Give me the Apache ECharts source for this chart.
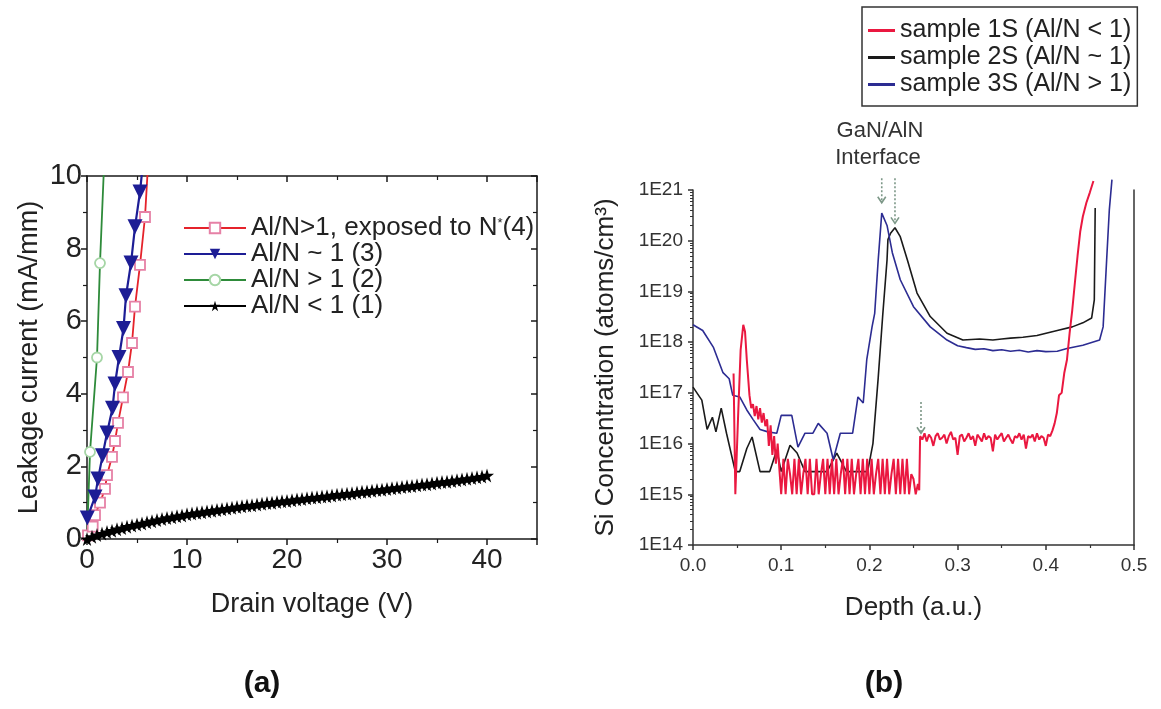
<!DOCTYPE html>
<html>
<head>
<meta charset="utf-8">
<script src="https://cdn.jsdelivr.net/npm/echarts@6/dist/echarts.min.js"></script>
<style>
  html, body { margin: 0; padding: 0; background: #fff; }
  #chart { width: 1161px; height: 709px; }
</style>
</head>
<body>
<div id="chart"></div>
<script>
// ---------- Panel (a): leakage current vs drain voltage ----------
const exposedVolt  = [0.1, 0.57, 0.8, 1.3, 1.8, 2.0, 2.5, 2.8, 3.1, 3.6, 4.1, 4.5, 4.8, 5.3, 5.8, 6.1];
const exposedCurr  = [0.1, 0.34, 0.66, 1.0, 1.38, 1.76, 2.26, 2.7, 3.2, 3.9, 4.6, 5.4, 6.4, 7.55, 8.87, 10.3];

const nearOneVolt  = [0.03, 0.8, 1.1, 1.55, 2.0, 2.55, 2.8, 3.2, 3.65, 3.9, 4.4, 4.8, 5.3, 5.65];
const nearOneCurr  = [0.58, 1.16, 1.65, 2.29, 2.92, 3.6, 4.27, 5.0, 5.8, 6.7, 7.6, 8.6, 9.56, 10.5];

const aboveOneVolt = [0, 0.3, 1.0, 1.3, 1.75];
const aboveOneCurr = [0, 2.4, 5.0, 7.6, 10.6];

const belowOneVolt = [0, 0.5, 1, 1.5, 2, 2.5, 3, 3.5, 4, 4.5, 5, 5.5, 6, 6.5, 7, 7.5, 8, 8.5, 9, 9.5,
  10, 10.5, 11, 11.5, 12, 12.5, 13, 13.5, 14, 14.5, 15, 15.5, 16, 16.5, 17, 17.5, 18, 18.5, 19, 19.5,
  20, 20.5, 21, 21.5, 22, 22.5, 23, 23.5, 24, 24.5, 25, 25.5, 26, 26.5, 27, 27.5, 28, 28.5, 29, 29.5,
  30, 30.5, 31, 31.5, 32, 32.5, 33, 33.5, 34, 34.5, 35, 35.5, 36, 36.5, 37, 37.5, 38, 38.5, 39, 39.5, 40];
const belowOneCurr = [0.00, 0.06, 0.11, 0.15, 0.19, 0.23, 0.27, 0.30, 0.34, 0.37, 0.40, 0.43, 0.46, 0.49, 0.52, 0.55, 0.58, 0.60, 0.63, 0.65,
  0.68, 0.70, 0.72, 0.74, 0.76, 0.78, 0.80, 0.82, 0.84, 0.86, 0.88, 0.90, 0.92, 0.93, 0.95, 0.97, 0.99, 1.00, 1.02, 1.04,
  1.05, 1.07, 1.09, 1.10, 1.12, 1.14, 1.15, 1.17, 1.18, 1.20, 1.22, 1.23, 1.25, 1.26, 1.28, 1.30, 1.31, 1.33, 1.35, 1.36,
  1.38, 1.40, 1.41, 1.43, 1.45, 1.46, 1.48, 1.50, 1.51, 1.53, 1.55, 1.57, 1.58, 1.60, 1.62, 1.64, 1.66, 1.68, 1.70, 1.72, 1.75];

const leakageNames = ['Al/N>1, exposed to N*(4)', 'Al/N ~ 1 (3)', 'Al/N > 1 (2)', 'Al/N < 1 (1)'];
const voltTicks = { min: 0, max: 45, step: 10 };
const currTicks = { min: 0, max: 10, step: 2 };

// ---------- Panel (b): Si depth profiles (depth, atoms/cm3) ----------
const sample1S = [
  [0.046, 2.4e17], [0.048, 1e15], [0.051, 3e16], [0.054, 7e17], [0.057, 2.2e18], [0.059, 1.6e18], [0.061, 4.5e17],
  [0.064, 9e16], [0.066, 5e16], [0.068, 6e16], [0.070, 3.5e16], [0.072, 5.5e16], [0.074, 3e16], [0.076, 5e16],
  [0.078, 2.6e16], [0.080, 4e16], [0.082, 2.2e16], [0.084, 3e16], [0.086, 9e15], [0.088, 2.3e16], [0.090, 6e15],
  [0.092, 1.4e16], [0.094, 4e15], [0.096, 1e16], [0.098, 3e15],
  [0.1000, 1e15], [0.1025, 5e15], [0.1050, 1e15], [0.1075, 5e15], [0.1100, 2.5e15], [0.1125, 1e15], [0.1150, 5e15],
  [0.1175, 1e15], [0.1200, 5e15], [0.1225, 1e15], [0.1250, 2.5e15], [0.1275, 5e15], [0.1300, 1e15], [0.1325, 5e15],
  [0.1350, 1e15], [0.1375, 1e15], [0.1400, 5e15], [0.1425, 1e15], [0.1450, 2.5e15], [0.1475, 5e15], [0.1500, 1e15],
  [0.1525, 5e15], [0.1550, 1e15], [0.1575, 5e15], [0.1600, 1e15], [0.1625, 5e15], [0.1650, 1e15], [0.1675, 2.5e15],
  [0.1700, 5e15], [0.1725, 1e15], [0.1750, 5e15], [0.1775, 1e15], [0.1800, 5e15], [0.1825, 1e15], [0.1850, 2.5e15],
  [0.1875, 5e15], [0.1900, 1e15], [0.1925, 5e15], [0.1950, 1e15], [0.1975, 5e15], [0.2000, 1e15], [0.2025, 5e15],
  [0.2050, 1e15], [0.2075, 2.5e15], [0.2100, 5e15], [0.2125, 1e15], [0.2150, 5e15], [0.2175, 1e15], [0.2200, 5e15],
  [0.2225, 1e15], [0.2250, 2.5e15], [0.2275, 5e15], [0.2300, 1e15], [0.2325, 5e15], [0.2350, 1e15], [0.2375, 5e15],
  [0.2400, 1e15], [0.2425, 5e15], [0.2450, 1e15], [0.2475, 2.5e15], [0.2500, 2e15], [0.2525, 1e15], [0.2550, 1.6e15],
  [0.2565, 1.2e15],
  [0.2575, 1.4e16], [0.2600, 1.2e16], [0.2625, 1.6e16], [0.2650, 1.1e16], [0.2675, 1.5e16], [0.2700, 1.3e16],
  [0.2725, 9e15], [0.2750, 1.4e16], [0.2775, 1.6e16], [0.2800, 1.2e16], [0.2825, 1.3e16], [0.2850, 1.5e16],
  [0.2875, 1.0e16], [0.2900, 1.4e16], [0.2925, 1.7e16], [0.2950, 1.2e16], [0.2975, 1.3e16], [0.3000, 6e15],
  [0.3025, 1.4e16], [0.3050, 1.5e16], [0.3075, 1.1e16], [0.3100, 1.3e16], [0.3125, 1.6e16], [0.3150, 1.2e16],
  [0.3175, 1.4e16], [0.3200, 9e15], [0.3225, 1.5e16], [0.3250, 1.3e16], [0.3275, 1.1e16], [0.3300, 1.6e16],
  [0.3325, 1.2e16], [0.3350, 1.4e16], [0.3375, 1.3e16], [0.3400, 7e15], [0.3425, 1.5e16], [0.3450, 1.2e16],
  [0.3475, 1.4e16], [0.3500, 1.6e16], [0.3525, 1.1e16], [0.3550, 1.3e16], [0.3575, 1.5e16], [0.3600, 1.2e16],
  [0.3625, 1.0e16], [0.3650, 1.4e16], [0.3675, 1.3e16], [0.3700, 1.6e16], [0.3725, 1.2e16], [0.3750, 1.5e16],
  [0.3775, 8e15], [0.3800, 1.4e16], [0.3825, 1.3e16], [0.3850, 1.5e16], [0.3875, 1.1e16], [0.3900, 1.6e16],
  [0.3925, 1.2e16], [0.3950, 1.4e16], [0.3975, 1.3e16], [0.4000, 9e15], [0.4025, 1.5e16], [0.4050, 1.4e16],
  [0.4075, 1.8e16], [0.4100, 2.5e16], [0.4125, 4e16], [0.4150, 9e16], [0.4180, 1e17], [0.4210, 2.5e17],
  [0.4240, 4.5e17], [0.4270, 1.5e18], [0.4300, 4.3e18], [0.4330, 1.5e19], [0.4360, 5e19], [0.4390, 1.5e20],
  [0.4420, 3e20], [0.4460, 5.6e20], [0.4500, 9e20], [0.4540, 1.5e21]
];

const sample2S = [
  [0.000, 1.3e17], [0.010, 7.2e16], [0.016, 1.9e16], [0.022, 3.3e16], [0.026, 1.7e16], [0.032, 5e16], [0.038, 1.6e16],
  [0.048, 2.8e15], [0.053, 2.8e15], [0.061, 8e15], [0.067, 1.35e16], [0.076, 2.8e15], [0.087, 2.8e15], [0.095, 7.5e15],
  [0.100, 2.8e15], [0.110, 9.3e15], [0.118, 6.5e15], [0.127, 2.8e15], [0.152, 2.8e15], [0.163, 6.5e15], [0.174, 2.8e15],
  [0.198, 2.8e15], [0.204, 1e16], [0.210, 2e17], [0.215, 3.2e18], [0.220, 4.2e19], [0.221, 1.05e20], [0.224, 1.4e20],
  [0.229, 1.8e20], [0.235, 1.2e20], [0.243, 4.2e19], [0.254, 9.3e18], [0.269, 3.2e18], [0.288, 1.5e18], [0.306, 1.1e18],
  [0.325, 1.15e18], [0.340, 1.1e18], [0.350, 1.15e18], [0.360, 1.2e18], [0.374, 1.25e18], [0.390, 1.35e18],
  [0.413, 1.7e18], [0.430, 2e18], [0.442, 2.4e18], [0.452, 3e18], [0.455, 6.8e18], [0.456, 4.4e20]
];

const sample3S = [
  [0.000, 2.2e18], [0.011, 1.7e18], [0.023, 8e17], [0.034, 2.5e17], [0.041, 1.9e17], [0.045, 9e16], [0.053, 8.3e16],
  [0.061, 4.6e16], [0.068, 3e16], [0.076, 1.9e16], [0.085, 1.7e16], [0.095, 1.6e16], [0.100, 3.6e16], [0.112, 3.6e16],
  [0.119, 8.5e15], [0.127, 1.6e16], [0.136, 1.6e16], [0.142, 2.5e16], [0.152, 1.6e16], [0.159, 4.8e15], [0.167, 1.6e16],
  [0.181, 1.6e16], [0.187, 8.3e16], [0.193, 6.3e16], [0.197, 4.5e17], [0.203, 2e18], [0.206, 3.7e18], [0.210, 4.2e19],
  [0.214, 3.5e20], [0.220, 2e20], [0.226, 5.8e19], [0.235, 1.7e19], [0.250, 5e18], [0.269, 2e18], [0.288, 1.1e18],
  [0.300, 8.5e17], [0.310, 7.8e17], [0.320, 7.2e17], [0.330, 7.4e17], [0.340, 6.8e17], [0.350, 7.1e17], [0.360, 6.6e17],
  [0.370, 6.9e17], [0.380, 6.4e17], [0.390, 6.8e17], [0.400, 6.5e17], [0.413, 6.6e17], [0.424, 7.5e17], [0.442, 8.7e17],
  [0.461, 1.1e18], [0.465, 2e18], [0.469, 4.2e19], [0.472, 4e20], [0.475, 1.6e21]
];

const profileNames = ['sample 1S (Al/N < 1)', 'sample 2S (Al/N ~ 1)', 'sample 3S (Al/N > 1)'];
const depthTicks = { min: 0, max: 0.5, step: 0.1 };
const concRange = { min: 1e14, max: 1e21 };

// interface markers: depth, arrow top and tip concentration
const interfaceArrows = [
  { depth: 0.214, from: 1.7e21, to: 5.6e20 },
  { depth: 0.229, from: 1.7e21, to: 2.2e20 },
  { depth: 0.2585, from: 6.6e16, to: 1.6e16 }
];

// ---------- chart ----------
const FONT = '"Liberation Sans", Arial, Helvetica, sans-serif';
const INK = '#1a1a1a';
const STAR = 'path://M50,0 L61,35 L98,35 L68,57 L79,91 L50,70 L21,91 L32,57 L2,35 L39,35 Z';

const zip = (xs, ys) => xs.map((x, i) => [x, ys[i]]);

const chart = echarts.init(document.getElementById('chart'), null, { renderer: 'canvas' });

const frameAxis = (extra) => Object.assign({
  splitLine: { show: false },
  axisLine: { show: true, onZero: false, lineStyle: { color: INK, width: 1.5 } },
  axisTick: { show: true, length: 6, lineStyle: { color: INK, width: 1.5 } },
  minorTick: { show: true, splitNumber: 2, length: 4, lineStyle: { color: INK, width: 1.2 } }
}, extra);

const option = {
  backgroundColor: '#fff',
  animation: false,
  textStyle: { fontFamily: FONT },
  grid: [
    { left: 87, top: 176, width: 450, height: 363 },
    { left: 693, top: 190, width: 441, height: 355 }
  ],
  xAxis: [
    frameAxis({
      gridIndex: 0, type: 'value', position: 'bottom',
      min: voltTicks.min, max: voltTicks.max, interval: voltTicks.step,
      axisLabel: { fontSize: 28, color: '#222', margin: 7, showMaxLabel: false, fontFamily: FONT },
      name: 'Drain voltage (V)', nameLocation: 'middle', nameGap: 52,
      nameTextStyle: { fontSize: 27, color: '#222', fontFamily: FONT }
    }),
    frameAxis({
      gridIndex: 0, type: 'value', position: 'top',
      min: voltTicks.min, max: voltTicks.max, interval: voltTicks.step,
      axisTick: { show: true, inside: true, length: 6, lineStyle: { color: INK, width: 1.5 } },
      axisLabel: { show: false }
    }),
    {
      gridIndex: 1, type: 'value', position: 'bottom',
      min: depthTicks.min, max: depthTicks.max, interval: depthTicks.step,
      splitLine: { show: false },
      axisLine: { show: true, onZero: false, lineStyle: { color: '#333', width: 1.5 } },
      axisTick: { show: true, length: 5, lineStyle: { color: '#333', width: 1.5 } },
      minorTick: { show: true, splitNumber: 2, length: 3, lineStyle: { color: '#333', width: 1.2 } },
      axisLabel: { fontSize: 19, color: '#333', margin: 11, fontFamily: FONT, formatter: v => v.toFixed(1) },
      name: 'Depth (a.u.)', nameLocation: 'middle', nameGap: 50,
      nameTextStyle: { fontSize: 26, color: '#222', fontFamily: FONT }
    }
  ],
  yAxis: [
    frameAxis({
      gridIndex: 0, type: 'value', position: 'left',
      min: currTicks.min, max: currTicks.max, interval: currTicks.step,
      axisLabel: { fontSize: 29, color: '#222', margin: 5, fontFamily: FONT },
      name: 'Leakage current (mA/mm)', nameLocation: 'middle', nameGap: 44, nameRotate: 90,
      nameTextStyle: { fontSize: 27, color: '#222', fontFamily: FONT }
    }),
    frameAxis({
      gridIndex: 0, type: 'value', position: 'right',
      min: currTicks.min, max: currTicks.max, interval: currTicks.step,
      axisTick: { show: true, inside: true, length: 6, lineStyle: { color: INK, width: 1.5 } },
      axisLabel: { show: false }
    }),
    {
      gridIndex: 1, type: 'log', logBase: 10, position: 'left',
      min: concRange.min, max: concRange.max, splitNumber: 7,
      splitLine: { show: false },
      axisLine: { show: true, onZero: false, lineStyle: { color: '#333', width: 1.5 } },
      axisTick: { show: true, length: 5, lineStyle: { color: '#333', width: 1.5 } },
      minorTick: { show: true, splitNumber: 9, length: 3, lineStyle: { color: '#333', width: 1 } },
      axisLabel: {
        fontSize: 19, color: '#333', margin: 10, fontFamily: FONT,
        formatter: v => '1E' + Math.round(Math.log10(v))
      },
      name: 'Si Concentration (atoms/cm³)', nameLocation: 'middle', nameGap: 74, nameRotate: 90,
      nameTextStyle: { fontSize: 26, color: '#222', fontFamily: FONT }
    },
    {
      gridIndex: 1, type: 'log', logBase: 10, position: 'right',
      min: concRange.min, max: concRange.max,
      splitLine: { show: false },
      axisLine: { show: true, onZero: false, lineStyle: { color: '#333', width: 1.5 } },
      axisTick: { show: false }, axisLabel: { show: false }
    }
  ],
  legend: [
    {
      left: 178, top: 210, orient: 'vertical', itemGap: 0,
      itemWidth: 62, itemHeight: 13,
      data: leakageNames,
      textStyle: {
        fontSize: 26, color: '#222', fontFamily: FONT, lineHeight: 23,
        rich: { s: { fontSize: 13, verticalAlign: 'top', lineHeight: 23, color: '#222' } }
      },
      formatter: name => name.replace('N*', 'N{s|*}')
    },
    {
      left: 862, top: 7, orient: 'vertical', itemGap: 0,
      itemWidth: 27, itemHeight: 3, padding: [10, 6, 8, 6],
      borderColor: '#333', borderWidth: 1.5,
      data: profileNames.map(n => ({ name: n, icon: 'rect' })),
      textStyle: { fontSize: 25, color: '#222', fontFamily: FONT, lineHeight: 27 }
    }
  ],
  series: [
    {
      name: leakageNames[0], type: 'line', xAxisIndex: 0, yAxisIndex: 0,
      data: zip(exposedVolt, exposedCurr),
      lineStyle: { color: '#e5232b', width: 1.8 },
      symbol: 'rect', symbolSize: 10, showSymbol: true,
      itemStyle: { color: '#fff', borderColor: '#e681a6', borderWidth: 1.8 }, z: 3
    },
    {
      name: leakageNames[1], type: 'line', xAxisIndex: 0, yAxisIndex: 0,
      data: zip(nearOneVolt, nearOneCurr),
      lineStyle: { color: '#1d1d95', width: 2.2 },
      symbol: 'triangle', symbolRotate: 180, symbolSize: 15,
      itemStyle: { color: '#1d1d95' }, z: 4
    },
    {
      name: leakageNames[2], type: 'line', xAxisIndex: 0, yAxisIndex: 0,
      data: zip(aboveOneVolt, aboveOneCurr).map((p, i) => i === 0 ? { value: p, symbol: 'none' } : p),
      lineStyle: { color: '#2e8b3a', width: 1.8 },
      symbol: 'circle', symbolSize: 10,
      itemStyle: { color: '#fff', borderColor: '#a6d6a6', borderWidth: 1.8 }, z: 2
    },
    {
      name: leakageNames[3], type: 'line', xAxisIndex: 0, yAxisIndex: 0,
      data: zip(belowOneVolt, belowOneCurr),
      lineStyle: { color: '#000', width: 3 },
      symbol: STAR, symbolSize: 14,
      itemStyle: { color: '#000' }, z: 5
    },
    {
      name: profileNames[1], type: 'line', xAxisIndex: 2, yAxisIndex: 2, clip: false,
      data: sample2S, showSymbol: false, symbol: 'none',
      lineStyle: { color: '#1a1a1a', width: 1.6 }, itemStyle: { color: '#1a1a1a' }
    },
    {
      name: profileNames[2], type: 'line', xAxisIndex: 2, yAxisIndex: 2, clip: false,
      data: sample3S, showSymbol: false, symbol: 'none',
      lineStyle: { color: '#2c2c92', width: 1.6 }, itemStyle: { color: '#2c2c92' }
    },
    {
      name: profileNames[0], type: 'line', xAxisIndex: 2, yAxisIndex: 2, clip: false,
      data: sample1S, showSymbol: false, symbol: 'none',
      lineStyle: { color: '#ea1840', width: 2 }, itemStyle: { color: '#ea1840' }
    }
  ]
};

chart.setOption(option);

// interface arrows and captions placed through the depth-profile axes
const arrowColor = '#7d9888';
const graphics = [];
interfaceArrows.forEach(a => {
  const p0 = chart.convertToPixel({ xAxisIndex: 2, yAxisIndex: 2 }, [a.depth, a.from]);
  const p1 = chart.convertToPixel({ xAxisIndex: 2, yAxisIndex: 2 }, [a.depth, a.to]);
  graphics.push({
    type: 'line', silent: true, z: 10,
    shape: { x1: p0[0], y1: p0[1], x2: p1[0], y2: p1[1] },
    style: { stroke: arrowColor, lineWidth: 1.6, lineDash: [2, 2] }
  });
  graphics.push({
    type: 'polyline', silent: true, z: 10,
    shape: { points: [[p1[0] - 4, p1[1] - 6], [p1[0], p1[1]], [p1[0] + 4, p1[1] - 6]] },
    style: { stroke: arrowColor, lineWidth: 1.6, fill: null }
  });
});
graphics.push(
  { type: 'text', x: 880, y: 131, style: { text: 'GaN/AlN', font: '22px ' + FONT, fill: '#333', textAlign: 'center', textVerticalAlign: 'middle' } },
  { type: 'text', x: 878, y: 158, style: { text: 'Interface', font: '22px ' + FONT, fill: '#333', textAlign: 'center', textVerticalAlign: 'middle' } },
  { type: 'text', x: 262, y: 684, style: { text: '(a)', font: 'bold 30px ' + FONT, fill: '#111', textAlign: 'center', textVerticalAlign: 'middle' } },
  { type: 'text', x: 884, y: 684, style: { text: '(b)', font: 'bold 30px ' + FONT, fill: '#111', textAlign: 'center', textVerticalAlign: 'middle' } }
);
chart.setOption({ graphic: graphics });
</script>
</body>
</html>
